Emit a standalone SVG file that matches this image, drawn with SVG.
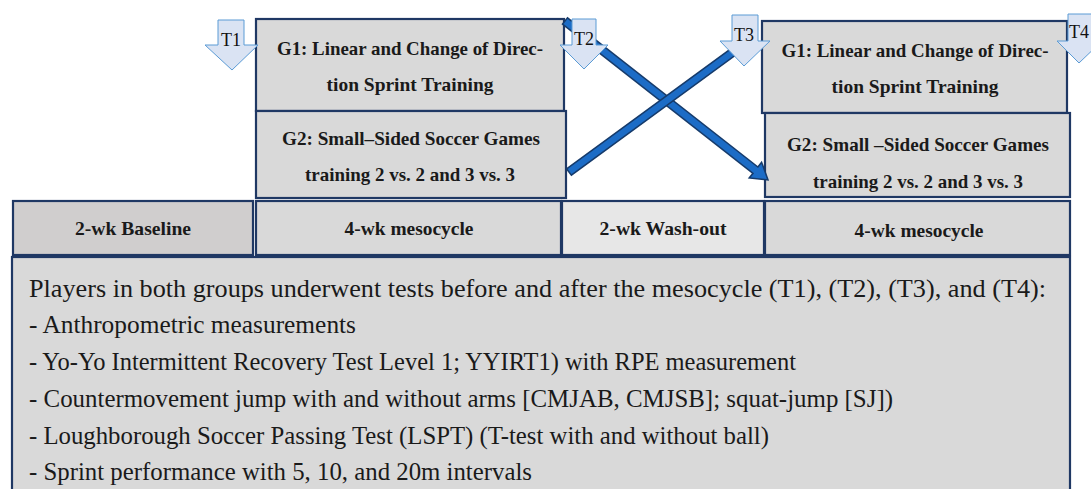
<svg xmlns="http://www.w3.org/2000/svg" width="1091" height="489" viewBox="0 0 1091 489">
<style>
.box{fill:#d9d9d9;stroke:#1f3864;stroke-width:2.2}
.lbl{font-family:"Liberation Serif","Times New Roman",serif;font-weight:bold;font-size:19px;fill:#1a1a1a;text-anchor:middle}
.body{font-family:"Liberation Serif","Times New Roman",serif;font-size:25px;fill:#1a1a1a}
.tarr{fill:#dae3f3;stroke:#5b9bd5;stroke-width:1}
.tlbl{font-family:"Liberation Serif","Times New Roman",serif;font-size:18px;fill:#111;text-anchor:middle}
.conn{fill:#1c6cc6;stroke:#163b6b;stroke-width:1.5;stroke-linejoin:miter}
</style>
<rect width="1091" height="489" fill="#ffffff"/>
<g id="g1-left">
<rect class="box" x="256" y="19" width="308" height="92"/>
<text class="lbl" x="410" y="55" textLength="266" lengthAdjust="spacingAndGlyphs">G1: Linear and Change of Direc-</text>
<text class="lbl" x="410" y="91" textLength="167" lengthAdjust="spacingAndGlyphs">tion Sprint Training</text>
</g>
<g id="g2-left">
<rect class="box" x="256" y="111" width="310" height="87"/>
<text class="lbl" x="411" y="145" textLength="258" lengthAdjust="spacingAndGlyphs">G2: Small–Sided Soccer Games</text>
<text class="lbl" x="410" y="181" textLength="210" lengthAdjust="spacingAndGlyphs">training 2 vs. 2 and 3 vs. 3</text>
</g>
<g id="g1-right">
<rect class="box" x="762" y="21" width="305" height="92"/>
<text class="lbl" x="915" y="57" textLength="267" lengthAdjust="spacingAndGlyphs">G1: Linear and Change of Direc-</text>
<text class="lbl" x="915" y="93" textLength="167" lengthAdjust="spacingAndGlyphs">tion Sprint Training</text>
</g>
<g id="g2-right">
<rect class="box" x="765" y="113" width="305" height="84"/>
<text class="lbl" x="918" y="151" textLength="262" lengthAdjust="spacingAndGlyphs">G2: Small –Sided Soccer Games</text>
<text class="lbl" x="918" y="188" textLength="210" lengthAdjust="spacingAndGlyphs">training 2 vs. 2 and 3 vs. 3</text>
</g>
<g id="baseline">
<rect class="box" x="13" y="201" width="240" height="54" style="fill:#d0cece"/>
<text class="lbl" x="133" y="235" textLength="116" lengthAdjust="spacingAndGlyphs">2-wk Baseline</text>
</g>
<g id="meso1">
<rect class="box" x="256" y="201" width="305" height="54"/>
<text class="lbl" x="409" y="235" textLength="129" lengthAdjust="spacingAndGlyphs">4-wk mesocycle</text>
</g>
<g id="washout">
<rect class="box" x="562" y="201" width="202" height="54" style="fill:#e7e7e7"/>
<text class="lbl" x="663" y="235" textLength="127" lengthAdjust="spacingAndGlyphs">2-wk Wash-out</text>
</g>
<g id="meso2">
<rect class="box" x="765" y="201" width="305" height="54"/>
<text class="lbl" x="919" y="237" textLength="129" lengthAdjust="spacingAndGlyphs">4-wk mesocycle</text>
</g>
<g id="tests">
<rect class="box" x="12" y="257" width="1058" height="250"/>
<text class="body" x="29" y="297" textLength="1017" lengthAdjust="spacingAndGlyphs">Players in both groups underwent tests before and after the mesocycle (T1), (T2), (T3), and (T4):</text>
<text class="body" x="29" y="333" textLength="327" lengthAdjust="spacingAndGlyphs">- Anthropometric measurements</text>
<text class="body" x="29" y="370" textLength="767" lengthAdjust="spacingAndGlyphs">- Yo-Yo Intermittent Recovery Test Level 1; YYIRT1) with RPE measurement</text>
<text class="body" x="29" y="407" textLength="864" lengthAdjust="spacingAndGlyphs">- Countermovement jump with and without arms [CMJAB, CMJSB]; squat-jump [SJ])</text>
<text class="body" x="29" y="444" textLength="740" lengthAdjust="spacingAndGlyphs">- Loughborough Soccer Passing Test (LSPT) (T-test with and without ball)</text>
<text class="body" x="29" y="480" textLength="503" lengthAdjust="spacingAndGlyphs">- Sprint performance with 5, 10, and 20m intervals</text>
</g>
<g id="connectors">
<polygon class="conn" points="562.5,24.1 753,173.3 749.2,178 768,180 761.6,162.2 757.9,167 567.5,17.9"/>
<polygon class="conn" points="566.6,168.8 737.6,43.8 742.4,50.2 571.4,175.2"/>
</g>
<g id="t1">
<polygon class="tarr" points="218,20 244,20 244,45 258,45 232,70 205,45 218,45"/>
<text class="tlbl" x="231" y="46">T1</text>
</g>
<g id="t2">
<polygon class="tarr" points="572,19 596,19 596,45 608,45 584,69 560,45 572,45"/>
<text class="tlbl" x="584" y="45">T2</text>
</g>
<g id="t3">
<polygon class="tarr" points="732,15 758,15 758,41 770,41 744,66 720,41 732,41"/>
<text class="tlbl" x="744" y="41">T3</text>
</g>
<g id="t4">
<polygon class="tarr" points="1068,14 1094,14 1094,41 1102,41 1079,63 1057,41 1068,41"/>
<text class="tlbl" x="1079" y="38">T4</text>
</g>
</svg>
